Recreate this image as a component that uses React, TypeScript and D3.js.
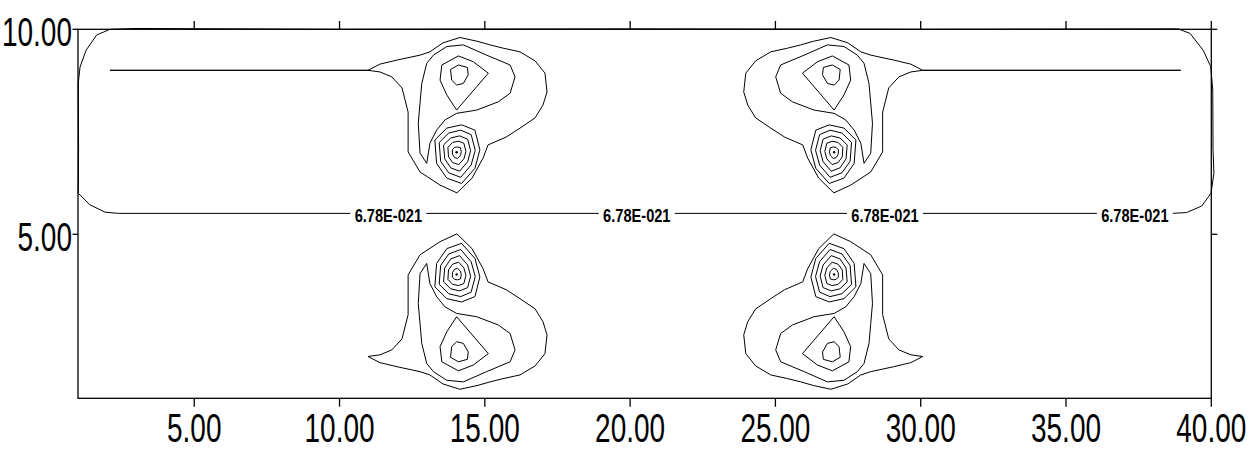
import React from "react";
import * as d3 from "d3";

type Pt = [number, number];

// ---- axes ----
const xDomain: [number, number] = [1, 40];
const yDomain: [number, number] = [1, 10];
const xTicks = [5, 10, 15, 20, 25, 30, 35, 40];
const yTicks = [5, 10];

// ---- contour labels ----
const contourLabel = "6.78E-021";
const labelXs = [11.68, 20.23, 28.77, 37.37];
const labelY = 5.51;

// ---- boundary contour (level 6.78E-021) ----
const boundary: Pt[] = [
  [2.39, 5.51], [38.64, 5.51], [39.15, 5.53], [39.67, 5.69], [39.99, 6.0], [40.09, 6.49],
  [40.06, 7.06], [40.05, 8.52], [39.98, 9.09], [39.72, 9.49], [39.27, 9.9], [38.86, 10.01],
  [30.0, 10.0], [20.0, 10.01], [10.0, 10.0], [3.0, 10.02], [2.1, 10.0], [1.64, 9.86], [1.28, 9.49],
  [1.07, 9.08], [1.01, 8.69], [1.02, 7.06], [1.01, 6.0], [1.41, 5.72], [1.93, 5.54], [2.39, 5.51],
];

// ---- upper-left feature ----
const ulOuter: Pt[] = [
  [2.1, 9.0], [10.98, 9.0], [11.39, 9.15], [11.98, 9.25], [12.77, 9.37], [13.11, 9.45], [13.56, 9.67],
  [14.14, 9.8], [14.73, 9.71], [15.18, 9.62], [15.63, 9.54], [16.21, 9.45], [16.73, 9.23], [17.07, 8.93],
  [17.14, 8.47], [17.0, 8.15], [16.73, 7.84], [16.21, 7.59], [15.73, 7.37], [15.11, 7.18], [14.94, 6.86],
  [14.56, 6.37], [14.04, 6.01], [13.46, 6.2], [12.77, 6.52], [12.36, 7.01], [12.36, 7.98], [12.15, 8.57],
  [11.8, 8.84], [11.39, 8.96], [10.98, 9.0], [2.1, 9.0],
];
const ulWrap: Pt[] = [
  [13.23, 9.37], [13.69, 9.58], [14.26, 9.62], [15.06, 9.37], [15.87, 9.13], [16.04, 8.84], [15.87, 8.44],
  [15.46, 8.23], [14.72, 8.03], [14.03, 7.95], [13.63, 7.79], [13.34, 7.54], [13.11, 7.22], [13.0, 6.73],
  [12.77, 6.98], [12.71, 7.71], [12.77, 8.2], [12.83, 8.68], [13.0, 9.17], [13.23, 9.37],
];
const ulTri: Pt[] = [
  [13.52, 9.13], [14.09, 9.35], [14.6, 9.21], [15.12, 8.93], [14.72, 8.6], [14.03, 8.03], [13.69, 8.4],
  [13.46, 8.76], [13.52, 9.13],
];
const ulCore: Pt[] = [
  [13.82, 9.02], [14.09, 9.13], [14.4, 9.07], [14.43, 8.89], [14.26, 8.68], [14.03, 8.64], [13.86, 8.76],
  [13.82, 9.02],
];
const ulRings: Pt[][] = [
  [[13.28, 7.3], [13.69, 7.59], [14.2, 7.67], [14.66, 7.54], [14.83, 7.06], [14.66, 6.61], [14.2, 6.24], [13.69, 6.37], [13.34, 6.73], [13.28, 7.3]],
  [[13.43, 7.24], [13.76, 7.47], [14.17, 7.54], [14.53, 7.43], [14.67, 7.05], [14.53, 6.69], [14.17, 6.39], [13.76, 6.5], [13.48, 6.78], [13.43, 7.24]],
  [[13.58, 7.18], [13.83, 7.35], [14.13, 7.4], [14.41, 7.32], [14.51, 7.04], [14.41, 6.77], [14.13, 6.54], [13.83, 6.62], [13.62, 6.84], [13.58, 7.18]],
  [[13.73, 7.12], [13.89, 7.24], [14.1, 7.27], [14.28, 7.22], [14.35, 7.02], [14.28, 6.84], [14.1, 6.7], [13.89, 6.75], [13.75, 6.89], [13.73, 7.12]],
  [[13.88, 7.06], [13.96, 7.12], [14.06, 7.13], [14.16, 7.11], [14.19, 7.01], [14.16, 6.92], [14.06, 6.85], [13.96, 6.87], [13.89, 6.95], [13.88, 7.06]],
];

// ---- upper-right feature ----
const urOuter: Pt[] = [
  [38.95, 9.0], [30.07, 9.0], [29.66, 9.15], [29.07, 9.25], [28.28, 9.37], [27.94, 9.45], [27.49, 9.67],
  [26.91, 9.8], [26.32, 9.71], [25.87, 9.62], [25.42, 9.54], [24.84, 9.45], [24.32, 9.23], [23.98, 8.93],
  [23.91, 8.47], [24.05, 8.15], [24.32, 7.84], [24.84, 7.59], [25.32, 7.37], [25.94, 7.18], [26.11, 6.86],
  [26.49, 6.37], [27.01, 6.01], [27.59, 6.2], [28.28, 6.52], [28.69, 7.01], [28.69, 7.98], [28.9, 8.57],
  [29.25, 8.84], [29.66, 8.96], [30.07, 9.0], [38.95, 9.0],
];
const urWrap: Pt[] = [
  [27.82, 9.37], [27.36, 9.58], [26.79, 9.62], [25.99, 9.37], [25.18, 9.13], [25.01, 8.84], [25.18, 8.44],
  [25.59, 8.23], [26.33, 8.03], [27.02, 7.95], [27.42, 7.79], [27.71, 7.54], [27.94, 7.22], [28.05, 6.73],
  [28.28, 6.98], [28.34, 7.71], [28.28, 8.2], [28.22, 8.68], [28.05, 9.17], [27.82, 9.37],
];
const urTri: Pt[] = [
  [27.53, 9.13], [26.96, 9.35], [26.45, 9.21], [25.93, 8.93], [26.33, 8.6], [27.02, 8.03], [27.36, 8.4],
  [27.59, 8.76], [27.53, 9.13],
];
const urCore: Pt[] = [
  [27.23, 9.02], [26.96, 9.13], [26.65, 9.07], [26.62, 8.89], [26.79, 8.68], [27.02, 8.64], [27.19, 8.76],
  [27.23, 9.02],
];
const urRings: Pt[][] = [
  [[27.77, 7.3], [27.36, 7.59], [26.85, 7.67], [26.39, 7.54], [26.22, 7.06], [26.39, 6.61], [26.85, 6.24], [27.36, 6.37], [27.71, 6.73], [27.77, 7.3]],
  [[27.62, 7.24], [27.29, 7.47], [26.88, 7.54], [26.52, 7.43], [26.38, 7.05], [26.52, 6.69], [26.88, 6.39], [27.29, 6.5], [27.57, 6.78], [27.62, 7.24]],
  [[27.47, 7.18], [27.22, 7.35], [26.92, 7.4], [26.64, 7.32], [26.54, 7.04], [26.64, 6.77], [26.92, 6.54], [27.22, 6.62], [27.43, 6.84], [27.47, 7.18]],
  [[27.32, 7.12], [27.16, 7.24], [26.95, 7.27], [26.77, 7.22], [26.7, 7.02], [26.77, 6.84], [26.95, 6.7], [27.16, 6.75], [27.3, 6.89], [27.32, 7.12]],
  [[27.17, 7.06], [27.09, 7.12], [26.99, 7.13], [26.89, 7.11], [26.86, 7.01], [26.89, 6.92], [26.99, 6.85], [27.09, 6.87], [27.16, 6.95], [27.17, 7.06]],
];

// ---- lower-left feature ----
const llOuter: Pt[] = [
  [10.98, 2.02], [11.39, 1.87], [11.98, 1.77], [12.77, 1.65], [13.11, 1.57], [13.56, 1.35], [14.14, 1.22],
  [14.73, 1.31], [15.18, 1.4], [15.63, 1.48], [16.21, 1.57], [16.73, 1.79], [17.07, 2.09], [17.14, 2.55],
  [17.0, 2.87], [16.73, 3.18], [16.21, 3.43], [15.73, 3.65], [15.11, 3.84], [14.94, 4.16], [14.56, 4.65],
  [14.04, 5.01], [13.46, 4.82], [12.77, 4.5], [12.36, 4.01], [12.36, 3.04], [12.15, 2.45], [11.8, 2.18],
  [11.39, 2.06], [10.98, 2.02],
];
const llWrap: Pt[] = [
  [13.23, 1.65], [13.69, 1.44], [14.26, 1.4], [15.06, 1.65], [15.87, 1.89], [16.04, 2.18], [15.87, 2.58],
  [15.46, 2.79], [14.72, 2.99], [14.03, 3.07], [13.63, 3.23], [13.34, 3.48], [13.11, 3.8], [13.0, 4.29],
  [12.77, 4.04], [12.71, 3.31], [12.77, 2.82], [12.83, 2.34], [13.0, 1.85], [13.23, 1.65],
];
const llTri: Pt[] = [
  [13.52, 1.89], [14.09, 1.67], [14.6, 1.81], [15.12, 2.09], [14.72, 2.42], [14.03, 2.99], [13.69, 2.62],
  [13.46, 2.26], [13.52, 1.89],
];
const llCore: Pt[] = [
  [13.82, 2.0], [14.09, 1.89], [14.4, 1.95], [14.43, 2.13], [14.26, 2.34], [14.03, 2.38], [13.86, 2.26],
  [13.82, 2.0],
];
const llRings: Pt[][] = [
  [[13.28, 3.72], [13.69, 3.43], [14.2, 3.35], [14.66, 3.48], [14.83, 3.96], [14.66, 4.41], [14.2, 4.78], [13.69, 4.65], [13.34, 4.29], [13.28, 3.72]],
  [[13.43, 3.78], [13.76, 3.55], [14.17, 3.48], [14.53, 3.59], [14.67, 3.97], [14.53, 4.33], [14.17, 4.63], [13.76, 4.52], [13.48, 4.24], [13.43, 3.78]],
  [[13.58, 3.84], [13.83, 3.67], [14.13, 3.62], [14.41, 3.7], [14.51, 3.98], [14.41, 4.25], [14.13, 4.48], [13.83, 4.4], [13.62, 4.18], [13.58, 3.84]],
  [[13.73, 3.9], [13.89, 3.78], [14.1, 3.75], [14.28, 3.8], [14.35, 4.0], [14.28, 4.18], [14.1, 4.32], [13.89, 4.27], [13.75, 4.13], [13.73, 3.9]],
  [[13.88, 3.96], [13.96, 3.9], [14.06, 3.89], [14.16, 3.91], [14.19, 4.01], [14.16, 4.1], [14.06, 4.17], [13.96, 4.15], [13.89, 4.07], [13.88, 3.96]],
];

// ---- lower-right feature ----
const lrOuter: Pt[] = [
  [30.07, 2.02], [29.66, 1.87], [29.07, 1.77], [28.28, 1.65], [27.94, 1.57], [27.49, 1.35], [26.91, 1.22],
  [26.32, 1.31], [25.87, 1.4], [25.42, 1.48], [24.84, 1.57], [24.32, 1.79], [23.98, 2.09], [23.91, 2.55],
  [24.05, 2.87], [24.32, 3.18], [24.84, 3.43], [25.32, 3.65], [25.94, 3.84], [26.11, 4.16], [26.49, 4.65],
  [27.01, 5.01], [27.59, 4.82], [28.28, 4.5], [28.69, 4.01], [28.69, 3.04], [28.9, 2.45], [29.25, 2.18],
  [29.66, 2.06], [30.07, 2.02],
];
const lrWrap: Pt[] = [
  [27.82, 1.65], [27.36, 1.44], [26.79, 1.4], [25.99, 1.65], [25.18, 1.89], [25.01, 2.18], [25.18, 2.58],
  [25.59, 2.79], [26.33, 2.99], [27.02, 3.07], [27.42, 3.23], [27.71, 3.48], [27.94, 3.8], [28.05, 4.29],
  [28.28, 4.04], [28.34, 3.31], [28.28, 2.82], [28.22, 2.34], [28.05, 1.85], [27.82, 1.65],
];
const lrTri: Pt[] = [
  [27.53, 1.89], [26.96, 1.67], [26.45, 1.81], [25.93, 2.09], [26.33, 2.42], [27.02, 2.99], [27.36, 2.62],
  [27.59, 2.26], [27.53, 1.89],
];
const lrCore: Pt[] = [
  [27.23, 2.0], [26.96, 1.89], [26.65, 1.95], [26.62, 2.13], [26.79, 2.34], [27.02, 2.38], [27.19, 2.26],
  [27.23, 2.0],
];
const lrRings: Pt[][] = [
  [[27.77, 3.72], [27.36, 3.43], [26.85, 3.35], [26.39, 3.48], [26.22, 3.96], [26.39, 4.41], [26.85, 4.78], [27.36, 4.65], [27.71, 4.29], [27.77, 3.72]],
  [[27.62, 3.78], [27.29, 3.55], [26.88, 3.48], [26.52, 3.59], [26.38, 3.97], [26.52, 4.33], [26.88, 4.63], [27.29, 4.52], [27.57, 4.24], [27.62, 3.78]],
  [[27.47, 3.84], [27.22, 3.67], [26.92, 3.62], [26.64, 3.7], [26.54, 3.98], [26.64, 4.25], [26.92, 4.48], [27.22, 4.4], [27.43, 4.18], [27.47, 3.84]],
  [[27.32, 3.9], [27.16, 3.78], [26.95, 3.75], [26.77, 3.8], [26.7, 4.0], [26.77, 4.18], [26.95, 4.32], [27.16, 4.27], [27.3, 4.13], [27.32, 3.9]],
  [[27.17, 3.96], [27.09, 3.9], [26.99, 3.89], [26.89, 3.91], [26.86, 4.01], [26.89, 4.1], [26.99, 4.17], [27.09, 4.15], [27.16, 4.07], [27.17, 3.96]],
];

// peaks (centre dots of the strongest vortices)
const peaks: Pt[] = [[14.03, 7.0], [27.02, 7.0], [14.03, 4.02], [27.02, 4.02]];

const contours: Pt[][] = [
  boundary,
  ulOuter, ulWrap, ulTri, ulCore, ...ulRings,
  urOuter, urWrap, urTri, urCore, ...urRings,
  llOuter, llWrap, llTri, llCore, ...llRings,
  lrOuter, lrWrap, lrTri, lrCore, ...lrRings,
];

const FONT = "'Liberation Sans', Arial, Helvetica, sans-serif";

export default function App() {
  const W = 1250;
  const H = 451;
  const x = d3.scaleLinear().domain(xDomain).range([78, 1211.3]);
  const y = d3.scaleLinear().domain(yDomain).range([398.3, 29.3]);
  const line = d3.line<Pt>().x((d) => x(d[0])).y((d) => y(d[1]));

  const x0 = x(xDomain[0]);
  const x1 = x(xDomain[1]);
  const y0 = y(yDomain[0]);
  const y1 = y(yDomain[1]);
  const fmt = (v: number) => v.toFixed(2);

  return (
    <svg
      width={W}
      height={H}
      viewBox={`0 0 ${W} ${H}`}
      style={{ position: "absolute", left: 0, top: 0, background: "#fff" }}
    >
      <rect x={0} y={0} width={W} height={H} fill="#fff" />
      {/* contours */}
      <g fill="none" stroke="#000" strokeWidth={1} strokeLinejoin="miter">
        {contours.map((c, i) => (
          <path key={i} d={line(c) || ""} />
        ))}
      </g>
      {peaks.map((p, i) => (
        <circle key={i} cx={x(p[0])} cy={y(p[1])} r={1.2} fill="#000" />
      ))}
      {/* contour labels */}
      {labelXs.map((lx, i) => (
        <g key={i} transform={`translate(${x(lx)},${y(labelY)})`}>
          <rect x={-38} y={-8} width={76} height={16} fill="#fff" />
          <text
            transform="translate(0,8.3) scale(0.79,1)"
            textAnchor="middle"
            fontFamily={FONT}
            fontWeight="bold"
            fontSize={18.5}
            fill="#000"
          >
            {contourLabel}
          </text>
        </g>
      ))}
      {/* frame */}
      <g stroke="#000" strokeWidth={1.3} fill="none">
        <rect x={x0} y={y1} width={x1 - x0} height={y0 - y1} />
        {xTicks.map((t) => (
          <g key={`xt${t}`}>
            <line x1={x(t)} x2={x(t)} y1={y0} y2={y0 + 8.4} />
            <line x1={x(t)} x2={x(t)} y1={y1} y2={y1 - 8.3} />
          </g>
        ))}
        {yTicks.map((t) => (
          <g key={`yt${t}`}>
            <line x1={x0} x2={x0 - 5.5} y1={y(t)} y2={y(t)} />
            <line x1={x1} x2={x1 + 6} y1={y(t)} y2={y(t)} />
          </g>
        ))}
      </g>
      {/* tick labels */}
      {xTicks.map((t) => (
        <text
          key={`xl${t}`}
          transform={`translate(${x(t)},${y0 + 43.7}) scale(0.7,1)`}
          textAnchor="middle"
          fontFamily={FONT}
          fontSize={40}
          fill="#000"
        >
          {fmt(t)}
        </text>
      ))}
      {yTicks.map((t) => (
        <text
          key={`yl${t}`}
          transform={`translate(72,${y(t) + 16.8}) scale(0.7,1)`}
          textAnchor="end"
          fontFamily={FONT}
          fontSize={40}
          fill="#000"
        >
          {fmt(t)}
        </text>
      ))}
    </svg>
  );
}
